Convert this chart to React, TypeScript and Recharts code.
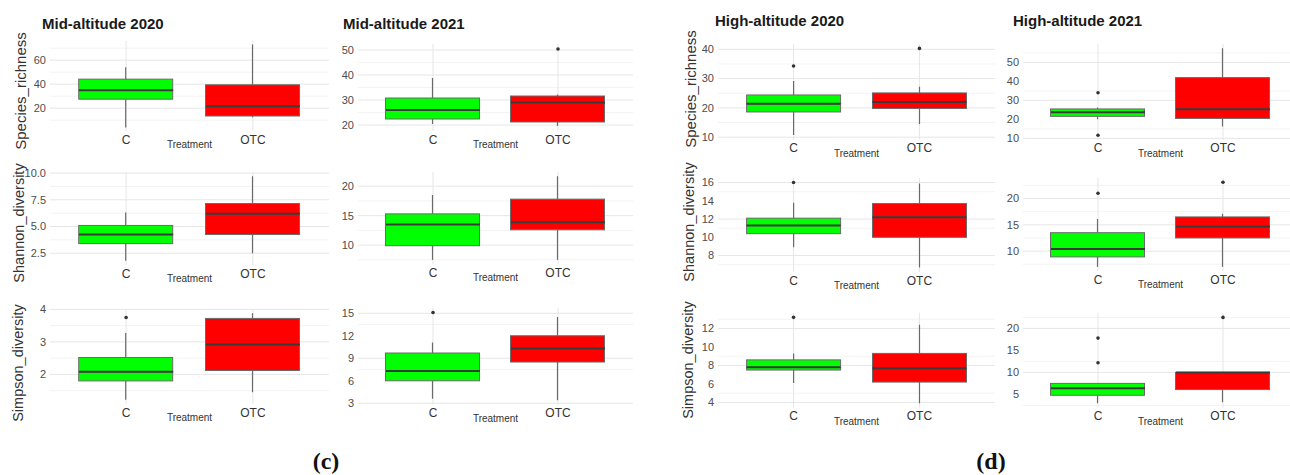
import { Bar, CartesianGrid, ComposedChart, Scatter, XAxis, YAxis } from "recharts";

const GREEN = "#00ff00";
const RED = "#ff0000";
const BOX_W = 94;
const AXIS_W = 40;
const XAXIS_H = 20;
const TOP_PAD = 8;

const treatments = ["C", "OTC"];

// five-number summaries [min, q1, median, q3, max]; C first, OTC second
const midRichness2020 = [[4, 27.5, 35, 44.2, 54.2], [12.5, 13.5, 21.7, 39.5, 73]];
const midShannon2020 = [[1.8, 3.4, 4.25, 5.1, 6.3], [2.5, 4.25, 6.2, 7.15, 9.7]];
const midSimpson2020 = [[1.22, 1.8, 2.08, 2.52, 3.27], [1.45, 2.12, 2.92, 3.72, 3.88]];
const midRichness2021 = [[20.4, 22.4, 26, 30.8, 38.8], [19.6, 21.2, 29, 31.6, 32.2]];
const midShannon2021 = [[7.5, 9.9, 13.5, 15.3, 18.5], [7.5, 12.6, 13.9, 17.8, 21.7]];
const midSimpson2021 = [[3.6, 6.0, 7.3, 9.7, 11.1], [3.4, 8.5, 10.3, 12, 14.5]];
const highRichness2020 = [[10.7, 18.6, 21.4, 24.4, 29.2], [14.5, 19.8, 22, 25.1, 27.2]];
const highShannon2020 = [[8.9, 10.4, 11.3, 12.1, 13.8], [6.7, 10, 12.2, 13.7, 15.9]];
const highSimpson2020 = [[6.1, 7.5, 7.8, 8.6, 9.3], [3.9, 6.2, 7.7, 9.3, 12.4]];
const highRichness2021 = [[20, 21.6, 23.7, 25.5, 26.3], [16.3, 20.5, 25.3, 42, 57.4]];
const highShannon2021 = [[7, 8.9, 10.4, 13.5, 16.1], [7, 12.5, 14.7, 16.5, 17.1]];
const highSimpson2021 = [[3, 4.8, 6.4, 7.5, 7.5], [3.2, 6.1, 10, 10, 10]];

// outliers; C first, OTC second
const midRichness2020Out = [[], []];
const midShannon2020Out = [[], []];
const midSimpson2020Out = [[3.75], []];
const midRichness2021Out = [[], [50.4]];
const midShannon2021Out = [[], []];
const midSimpson2021Out = [[15.1], []];
const highRichness2020Out = [[34.3], [40.3]];
const highShannon2020Out = [[16], []];
const highSimpson2020Out = [[13.2], []];
const highRichness2021Out = [[34, 11.6], []];
const highShannon2021Out = [[21], [23.1]];
const highSimpson2021Out = [[17.8, 12.2], [22.5]];

// tick labels (major) and minor grid positions
const midRichness2020Ticks = [20, 40, 60];
const midShannon2020Ticks = [2.5, 5, 7.5, 10];
const midSimpson2020Ticks = [2, 3, 4];
const midRichness2021Ticks = [20, 30, 40, 50];
const midShannon2021Ticks = [10, 15, 20];
const midSimpson2021Ticks = [3, 6, 9, 12, 15];
const highRichness2020Ticks = [10, 20, 30, 40];
const highShannon2020Ticks = [8, 10, 12, 14, 16];
const highSimpson2020Ticks = [4, 6, 8, 10, 12];
const highRichness2021Ticks = [10, 20, 30, 40, 50];
const highShannon2021Ticks = [10, 15, 20];
const highSimpson2021Ticks = [5, 10, 15, 20];

const midRichness2020Minor = [10, 30, 50, 70];
const midShannon2020Minor = [3.75, 6.25, 8.75];
const midSimpson2020Minor = [1.5, 2.5, 3.5];
const midRichness2021Minor = [25, 35, 45];
const midShannon2021Minor = [7.5, 12.5, 17.5];
const midSimpson2021Minor = [4.5, 7.5, 10.5, 13.5];
const highRichness2020Minor = [15, 25, 35];
const highShannon2020Minor = [7, 9, 11, 13, 15];
const highSimpson2020Minor = [5, 7, 9, 11, 13];
const highRichness2021Minor = [15, 25, 35, 45, 55];
const highShannon2021Minor = [7.5, 12.5, 17.5, 22.5];
const highSimpson2021Minor = [2.5, 7.5, 12.5, 17.5, 22.5];

type Panel = {
  stats: number[][];
  outs: number[][];
  ticks: number[];
  minor: number[];
  domain: [number, number];
  left: number;
  top: number;
  w: number;
  h: number;
  decimals?: number;
};

const cols = [
  { left: 50, w: 279 },
  { left: 358, w: 275 },
  { left: 718, w: 277 },
  { left: 1023, w: 275 },
];

const panels: Panel[] = [
  { stats: midRichness2020, outs: midRichness2020Out, ticks: midRichness2020Ticks, minor: midRichness2020Minor, domain: [1, 76], ...cols[0], top: 41, h: 90 },
  { stats: midShannon2020, outs: midShannon2020Out, ticks: midShannon2020Ticks, minor: midShannon2020Minor, domain: [1.4, 10.1], ...cols[0], top: 171.5, h: 93, decimals: 1 },
  { stats: midSimpson2020, outs: midSimpson2020Out, ticks: midSimpson2020Ticks, minor: midSimpson2020Minor, domain: [1.09, 4.01], ...cols[0], top: 308.7, h: 95 },
  { stats: midRichness2021, outs: midRichness2021Out, ticks: midRichness2021Ticks, minor: midRichness2021Minor, domain: [17.6, 52.4], ...cols[1], top: 44, h: 87 },
  { stats: midShannon2021, outs: midShannon2021Out, ticks: midShannon2021Ticks, minor: midShannon2021Minor, domain: [6.8, 22.4], ...cols[1], top: 171.8, h: 92 },
  { stats: midSimpson2021, outs: midSimpson2021Out, ticks: midSimpson2021Ticks, minor: midSimpson2021Minor, domain: [2.8, 15.7], ...cols[1], top: 307.8, h: 96.8 },
  { stats: highRichness2020, outs: highRichness2020Out, ticks: highRichness2020Ticks, minor: highRichness2020Minor, domain: [9.2, 41.8], ...cols[2], top: 43.8, h: 95.5 },
  { stats: highShannon2020, outs: highShannon2020Out, ticks: highShannon2020Ticks, minor: highShannon2020Minor, domain: [6.2, 16.5], ...cols[2], top: 178, h: 94 },
  { stats: highSimpson2020, outs: highSimpson2020Out, ticks: highSimpson2020Ticks, minor: highSimpson2020Minor, domain: [3.43, 13.67], ...cols[2], top: 312.6, h: 94.7 },
  { stats: highRichness2021, outs: highRichness2021Out, ticks: highRichness2021Ticks, minor: highRichness2021Minor, domain: [9.3, 59.7], ...cols[3], top: 43.6, h: 95.7 },
  { stats: highShannon2021, outs: highShannon2021Out, ticks: highShannon2021Ticks, minor: highShannon2021Minor, domain: [6.2, 23.9], ...cols[3], top: 177.9, h: 93.1 },
  { stats: highSimpson2021, outs: highSimpson2021Out, ticks: highSimpson2021Ticks, minor: highSimpson2021Minor, domain: [2, 23.5], ...cols[3], top: 312.6, h: 94.6 },
];

const BoxShape = (props: any) => {
  const { x, y, width, height, payload } = props;
  if (!height) return <g />;
  return <rect x={x} y={y} width={width} height={height} fill={payload.fill} stroke="#6a6a6a" strokeWidth={1} />;
};

const WhiskerShape = (props: any) => {
  const { x, y, width, height } = props;
  if (!height) return <g />;
  const cx = x + width / 2;
  return <line x1={cx} x2={cx} y1={y} y2={y + height} stroke="#6a6a6a" strokeWidth={1.2} />;
};

const MedianShape = (props: any) => {
  const { cx, cy } = props;
  if (cx == null || cy == null) return <g />;
  return <line x1={cx - BOX_W / 2} x2={cx + BOX_W / 2} y1={cy} y2={cy} stroke="#3a3a3a" strokeWidth={2} />;
};

const outlierShape = (key: string) => (props: any) => {
  const { cx, cy, payload } = props;
  if (payload[key] == null || cx == null || cy == null) return <g />;
  return <circle cx={cx} cy={cy} r={1.8} fill="#333" />;
};

const BoxPanel = ({ p }: { p: Panel }) => {
  const rows = treatments.map((name, i) => {
    const [lo, q1, med, q3, hi] = p.stats[i];
    return {
      name,
      base: lo,
      lowW: q1 - lo,
      lowBox: med - q1,
      upBox: q3 - med,
      upW: hi - q3,
      med,
      o1: p.outs[i][0] ?? null,
      o2: p.outs[i][1] ?? null,
      fill: i === 0 ? GREEN : RED,
    };
  });
  const pad = p.w * 0.0455;

  return (
    <div style={{ position: "absolute", left: p.left - AXIS_W, top: p.top - TOP_PAD }}>
      <ComposedChart
        width={AXIS_W + p.w}
        height={p.h + XAXIS_H + TOP_PAD}
        data={rows}
        margin={{ top: TOP_PAD, right: 0, bottom: 0, left: 0 }}
        barSize={BOX_W}
      >
        <CartesianGrid yAxisId="minor" vertical={false} syncWithTicks stroke="#f3f3f3" />
        <CartesianGrid yAxisId="major" syncWithTicks stroke="#e6e6e6" />
        <XAxis
          dataKey="name"
          type="category"
          padding={{ left: pad, right: pad }}
          axisLine={false}
          tickLine={false}
          tickSize={0}
          tickMargin={4}
          height={XAXIS_H}
          tick={{ fontSize: 12, fill: "#333" }}
          label={{ value: "Treatment", position: "insideBottom", offset: 3, fontSize: 10, fill: "#333" }}
        />
        <YAxis
          yAxisId="major"
          type="number"
          domain={p.domain}
          allowDataOverflow
          ticks={p.ticks}
          width={AXIS_W}
          axisLine={false}
          tickLine={false}
          tickSize={0}
          tickMargin={4}
          tick={{ fontSize: 11, fill: "#4d4d4d" }}
          tickFormatter={(v: number) => (p.decimals ? v.toFixed(p.decimals) : String(v))}
        />
        <YAxis yAxisId="minor" type="number" domain={p.domain} allowDataOverflow ticks={p.minor} hide />
        <Bar yAxisId="major" dataKey="base" stackId="box" shape={() => <g />} isAnimationActive={false} />
        <Bar yAxisId="major" dataKey="lowW" stackId="box" shape={WhiskerShape} isAnimationActive={false} />
        <Bar yAxisId="major" dataKey="lowBox" stackId="box" shape={BoxShape} isAnimationActive={false} />
        <Bar yAxisId="major" dataKey="upBox" stackId="box" shape={BoxShape} isAnimationActive={false} />
        <Bar yAxisId="major" dataKey="upW" stackId="box" shape={WhiskerShape} isAnimationActive={false} />
        <Scatter yAxisId="major" dataKey="med" shape={MedianShape} isAnimationActive={false} />
        <Scatter yAxisId="major" dataKey="o1" shape={outlierShape("o1")} isAnimationActive={false} />
        <Scatter yAxisId="major" dataKey="o2" shape={outlierShape("o2")} isAnimationActive={false} />
      </ComposedChart>
    </div>
  );
};

const titles = [
  { text: "Mid-altitude 2020", x: 42, y: 29 },
  { text: "Mid-altitude 2021", x: 343, y: 29 },
  { text: "High-altitude 2020", x: 715, y: 26 },
  { text: "High-altitude 2021", x: 1013, y: 26 },
];

const yTitles = [
  { text: "Species_richness", x: 20, y: 91, size: 15 },
  { text: "Shannon_diversity", x: 19, y: 223, size: 14.5 },
  { text: "Simpson_diversity", x: 18, y: 363, size: 14.5 },
  { text: "Species_richness", x: 690, y: 89, size: 15 },
  { text: "Shannon_diversity", x: 689, y: 222, size: 14.5 },
  { text: "Simpson_diversity", x: 688, y: 360, size: 14.5 },
];

export default function App() {
  return (
    <div
      style={{
        position: "absolute",
        left: 0,
        top: 0,
        width: 1290,
        height: 475,
        overflow: "hidden",
        background: "#fff",
        fontFamily: "'Liberation Sans', Arial, sans-serif",
      }}
    >
      {panels.map((p, i) => (
        <BoxPanel key={i} p={p} />
      ))}
      <svg width={1290} height={475} style={{ position: "absolute", left: 0, top: 0, pointerEvents: "none" }}>
        {titles.map((t) => (
          <text key={t.text} x={t.x} y={t.y} fontSize={15} fontWeight="bold" fill="#1a1a1a">
            {t.text}
          </text>
        ))}
        {yTitles.map((t, i) => (
          <text
            key={i}
            transform={`translate(${t.x},${t.y}) rotate(-90)`}
            textAnchor="middle"
            dominantBaseline="central"
            fontSize={t.size}
            fill="#333"
          >
            {t.text}
          </text>
        ))}
        <text x={326} y={469} textAnchor="middle" fontSize={24} fontWeight="bold" fontFamily="'Liberation Serif', 'DejaVu Serif', serif" fill="#111">
          (c)
        </text>
        <text x={991} y={469} textAnchor="middle" fontSize={24} fontWeight="bold" fontFamily="'Liberation Serif', 'DejaVu Serif', serif" fill="#111">
          (d)
        </text>
      </svg>
    </div>
  );
}
